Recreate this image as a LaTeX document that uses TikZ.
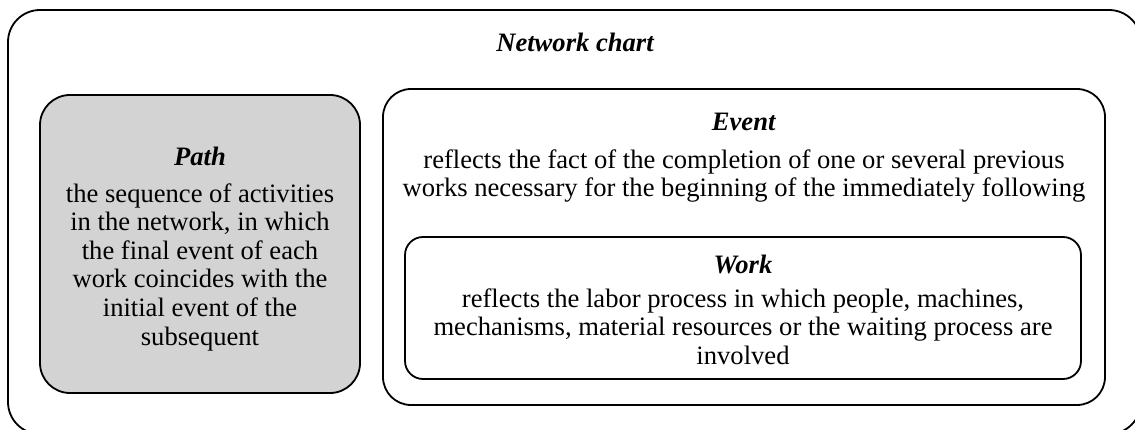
\documentclass[tikz,border=0pt]{standalone}
\usepackage{fontspec}
\setmainfont{Liberation Serif}
\definecolor{pathgray}{RGB}{211,211,211}
\begin{document}
\begin{tikzpicture}[x=1pt,y=-1pt,
  panel/.style={draw, line width=1.8pt, rectangle, inner sep=0pt},
  txt/.style={inner sep=0pt, align=center, font=\fontsize{26.6}{28.6}\selectfont},
  ttl/.style={inner sep=0pt, font=\fontsize{26.6}{28.6}\selectfont\bfseries\itshape}]
\useasboundingbox (0,0) rectangle (1135,430);
\node[panel, rounded corners=32pt, minimum width=1133pt, minimum height=424pt] (outer) at (574.5,222) {};
\node[panel, rounded corners=30pt, fill=pathgray, minimum width=320pt, minimum height=298pt] (pathbox) at (200,244) {};
\node[panel, rounded corners=28pt, minimum width=722pt, minimum height=316pt] (eventbox) at (744,247) {};
\node[panel, rounded corners=18pt, minimum width=676pt, minimum height=142pt] (workbox) at (743,308) {};
\node[ttl] (nctitle) at (575,42) {Network chart};
\node[txt] (pathtext) at (200,249) {\textbf{\textit{Path}}\\[8pt]the sequence of activities\\in the network, in which\\the final event of each\\work coincides with the\\initial event of the\\subsequent};
\node[txt, anchor=north] (eventtext) at (744,113) {\textbf{\textit{Event}}\\[9pt]reflects the fact of the completion of one or several previous\\works necessary for the beginning of the immediately following};
\node[txt] (worktext) at (743,310) {\textbf{\textit{Work}}\\[5pt]reflects the labor process in which people, machines,\\mechanisms, material resources or the waiting process are\\involved};
\end{tikzpicture}
\end{document}
